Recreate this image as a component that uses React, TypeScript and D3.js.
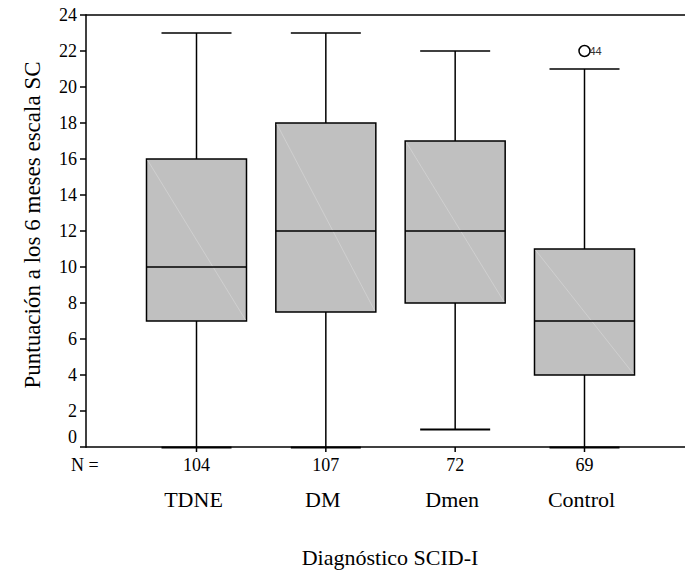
import { useRef, useEffect } from "react"
import * as d3 from "d3"

// valores (boxplot SPSS)
const categories = ["TDNE", "DM", "Dmen", "Control"]
const counts = [104, 107, 72, 69]
const whiskerLow = [0, 0, 1, 0]
const q1 = [7, 7.5, 8, 4]
const medians = [10, 12, 12, 7]
const q3 = [16, 18, 17, 11]
const whiskerHigh = [23, 23, 22, 21]
const outliers = [{ category: "Control", value: 22, label: "44" }]
const yTicks = [0, 2, 4, 6, 8, 10, 12, 14, 16, 18, 20, 22, 24]

const yTitle = "Puntuación a los 6 meses escala SC"
const xTitle = "Diagnóstico SCID-I"

const W = 685
const H = 576
const serif = "Liberation Serif, Times New Roman, Times, Tinos, DejaVu Serif, serif"

const App = () => {
  const svgRef = useRef<SVGSVGElement>(null)

  useEffect(() => {
    if (!svgRef.current) return
    const svg = d3.select(svgRef.current)
    svg.selectAll("*").remove()

    const left = 86
    const top = 15
    const bottom = 447

    const x = d3.scalePoint<string>().domain(categories).range([196.5, 584.5])
    const y = d3.scaleLinear().domain([0, 24]).range([bottom, top])

    const boxW = 100
    const capW = 70

    const g = svg.append("g")

    categories.forEach((c, i) => {
      const cx = x(c) as number
      // whiskers
      g.append("line").attr("x1", cx).attr("x2", cx).attr("y1", y(q3[i])).attr("y2", y(whiskerHigh[i]))
        .attr("stroke", "#000").attr("stroke-width", 1.5)
      g.append("line").attr("x1", cx).attr("x2", cx).attr("y1", y(q1[i])).attr("y2", y(whiskerLow[i]))
        .attr("stroke", "#000").attr("stroke-width", 1.5)
      g.append("line").attr("x1", cx - capW / 2).attr("x2", cx + capW / 2)
        .attr("y1", y(whiskerHigh[i])).attr("y2", y(whiskerHigh[i]))
        .attr("stroke", "#000").attr("stroke-width", 1.5)
      g.append("line").attr("x1", cx - capW / 2).attr("x2", cx + capW / 2)
        .attr("y1", y(whiskerLow[i]) + 0.5).attr("y2", y(whiskerLow[i]) + 0.5)
        .attr("stroke", "#000").attr("stroke-width", 2)

      // box
      g.append("rect")
        .attr("x", cx - boxW / 2).attr("y", y(q3[i]))
        .attr("width", boxW).attr("height", y(q1[i]) - y(q3[i]))
        .attr("fill", "#c0c0c0").attr("stroke", "#000").attr("stroke-width", 1.5)
      // faint diagonal artefact
      g.append("line")
        .attr("x1", cx - boxW / 2 + 1).attr("y1", y(q3[i]) + 1)
        .attr("x2", cx + boxW / 2 - 1).attr("y2", y(q1[i]) - 1)
        .attr("stroke", "#d6d6d6").attr("stroke-width", 0.7)
      // median
      g.append("line").attr("x1", cx - boxW / 2).attr("x2", cx + boxW / 2)
        .attr("y1", y(medians[i])).attr("y2", y(medians[i]))
        .attr("stroke", "#000").attr("stroke-width", 1.5)
    })

    outliers.forEach((o) => {
      const cx = x(o.category) as number
      g.append("circle").attr("cx", cx).attr("cy", y(o.value)).attr("r", 5.5)
        .attr("fill", "none").attr("stroke", "#000").attr("stroke-width", 1.5)
      g.append("text").attr("x", cx + 5).attr("y", y(o.value) + 4)
        .attr("font-family", "Liberation Sans, Arial, sans-serif").attr("font-size", 11)
        .attr("fill", "#333").text(o.label)
    })

    // axes frame
    g.append("line").attr("x1", left).attr("x2", W).attr("y1", top).attr("y2", top)
      .attr("stroke", "#000").attr("stroke-width", 1.5)
    g.append("line").attr("x1", left).attr("x2", left).attr("y1", top - 0.75).attr("y2", bottom + 0.75)
      .attr("stroke", "#000").attr("stroke-width", 1.5)
    g.append("line").attr("x1", left).attr("x2", W).attr("y1", bottom).attr("y2", bottom)
      .attr("stroke", "#000").attr("stroke-width", 1.5)

    // y ticks
    yTicks.forEach((t) => {
      g.append("line").attr("x1", left - 6).attr("x2", left).attr("y1", y(t)).attr("y2", y(t))
        .attr("stroke", "#000").attr("stroke-width", 1.5)
      g.append("text").attr("x", 77).attr("y", y(t) - (t === 0 ? 10 : 0)).attr("dy", "0.35em")
        .attr("text-anchor", "end").attr("font-family", serif).attr("font-size", 18)
        .text(t)
    })

    // x ticks, N and category labels
    g.append("text").attr("x", 71).attr("y", 471).attr("font-family", serif).attr("font-size", 18).text("N =")
    categories.forEach((c, i) => {
      const cx = x(c) as number
      g.append("line").attr("x1", cx).attr("x2", cx).attr("y1", bottom).attr("y2", bottom + 5)
        .attr("stroke", "#000").attr("stroke-width", 1.5)
      g.append("text").attr("x", cx).attr("y", 471).attr("text-anchor", "middle")
        .attr("font-family", serif).attr("font-size", 18).text(counts[i])
      g.append("text").attr("x", cx - 3).attr("y", 507).attr("text-anchor", "middle")
        .attr("font-family", serif).attr("font-size", 22).text(c)
    })

    g.append("text").attr("x", 390).attr("y", 565).attr("text-anchor", "middle")
      .attr("font-family", serif).attr("font-size", 22).text(xTitle)

    g.append("text").attr("transform", `translate(40,225) rotate(-90)`).attr("text-anchor", "middle")
      .attr("font-family", serif).attr("font-size", 23).text(yTitle)
  }, [])

  return (
    <div style={{ position: "fixed", left: 0, top: 0 }}>
      <svg ref={svgRef} width={W} height={H} style={{ display: "block", background: "#fff" }}></svg>
    </div>
  )
}

export default App
